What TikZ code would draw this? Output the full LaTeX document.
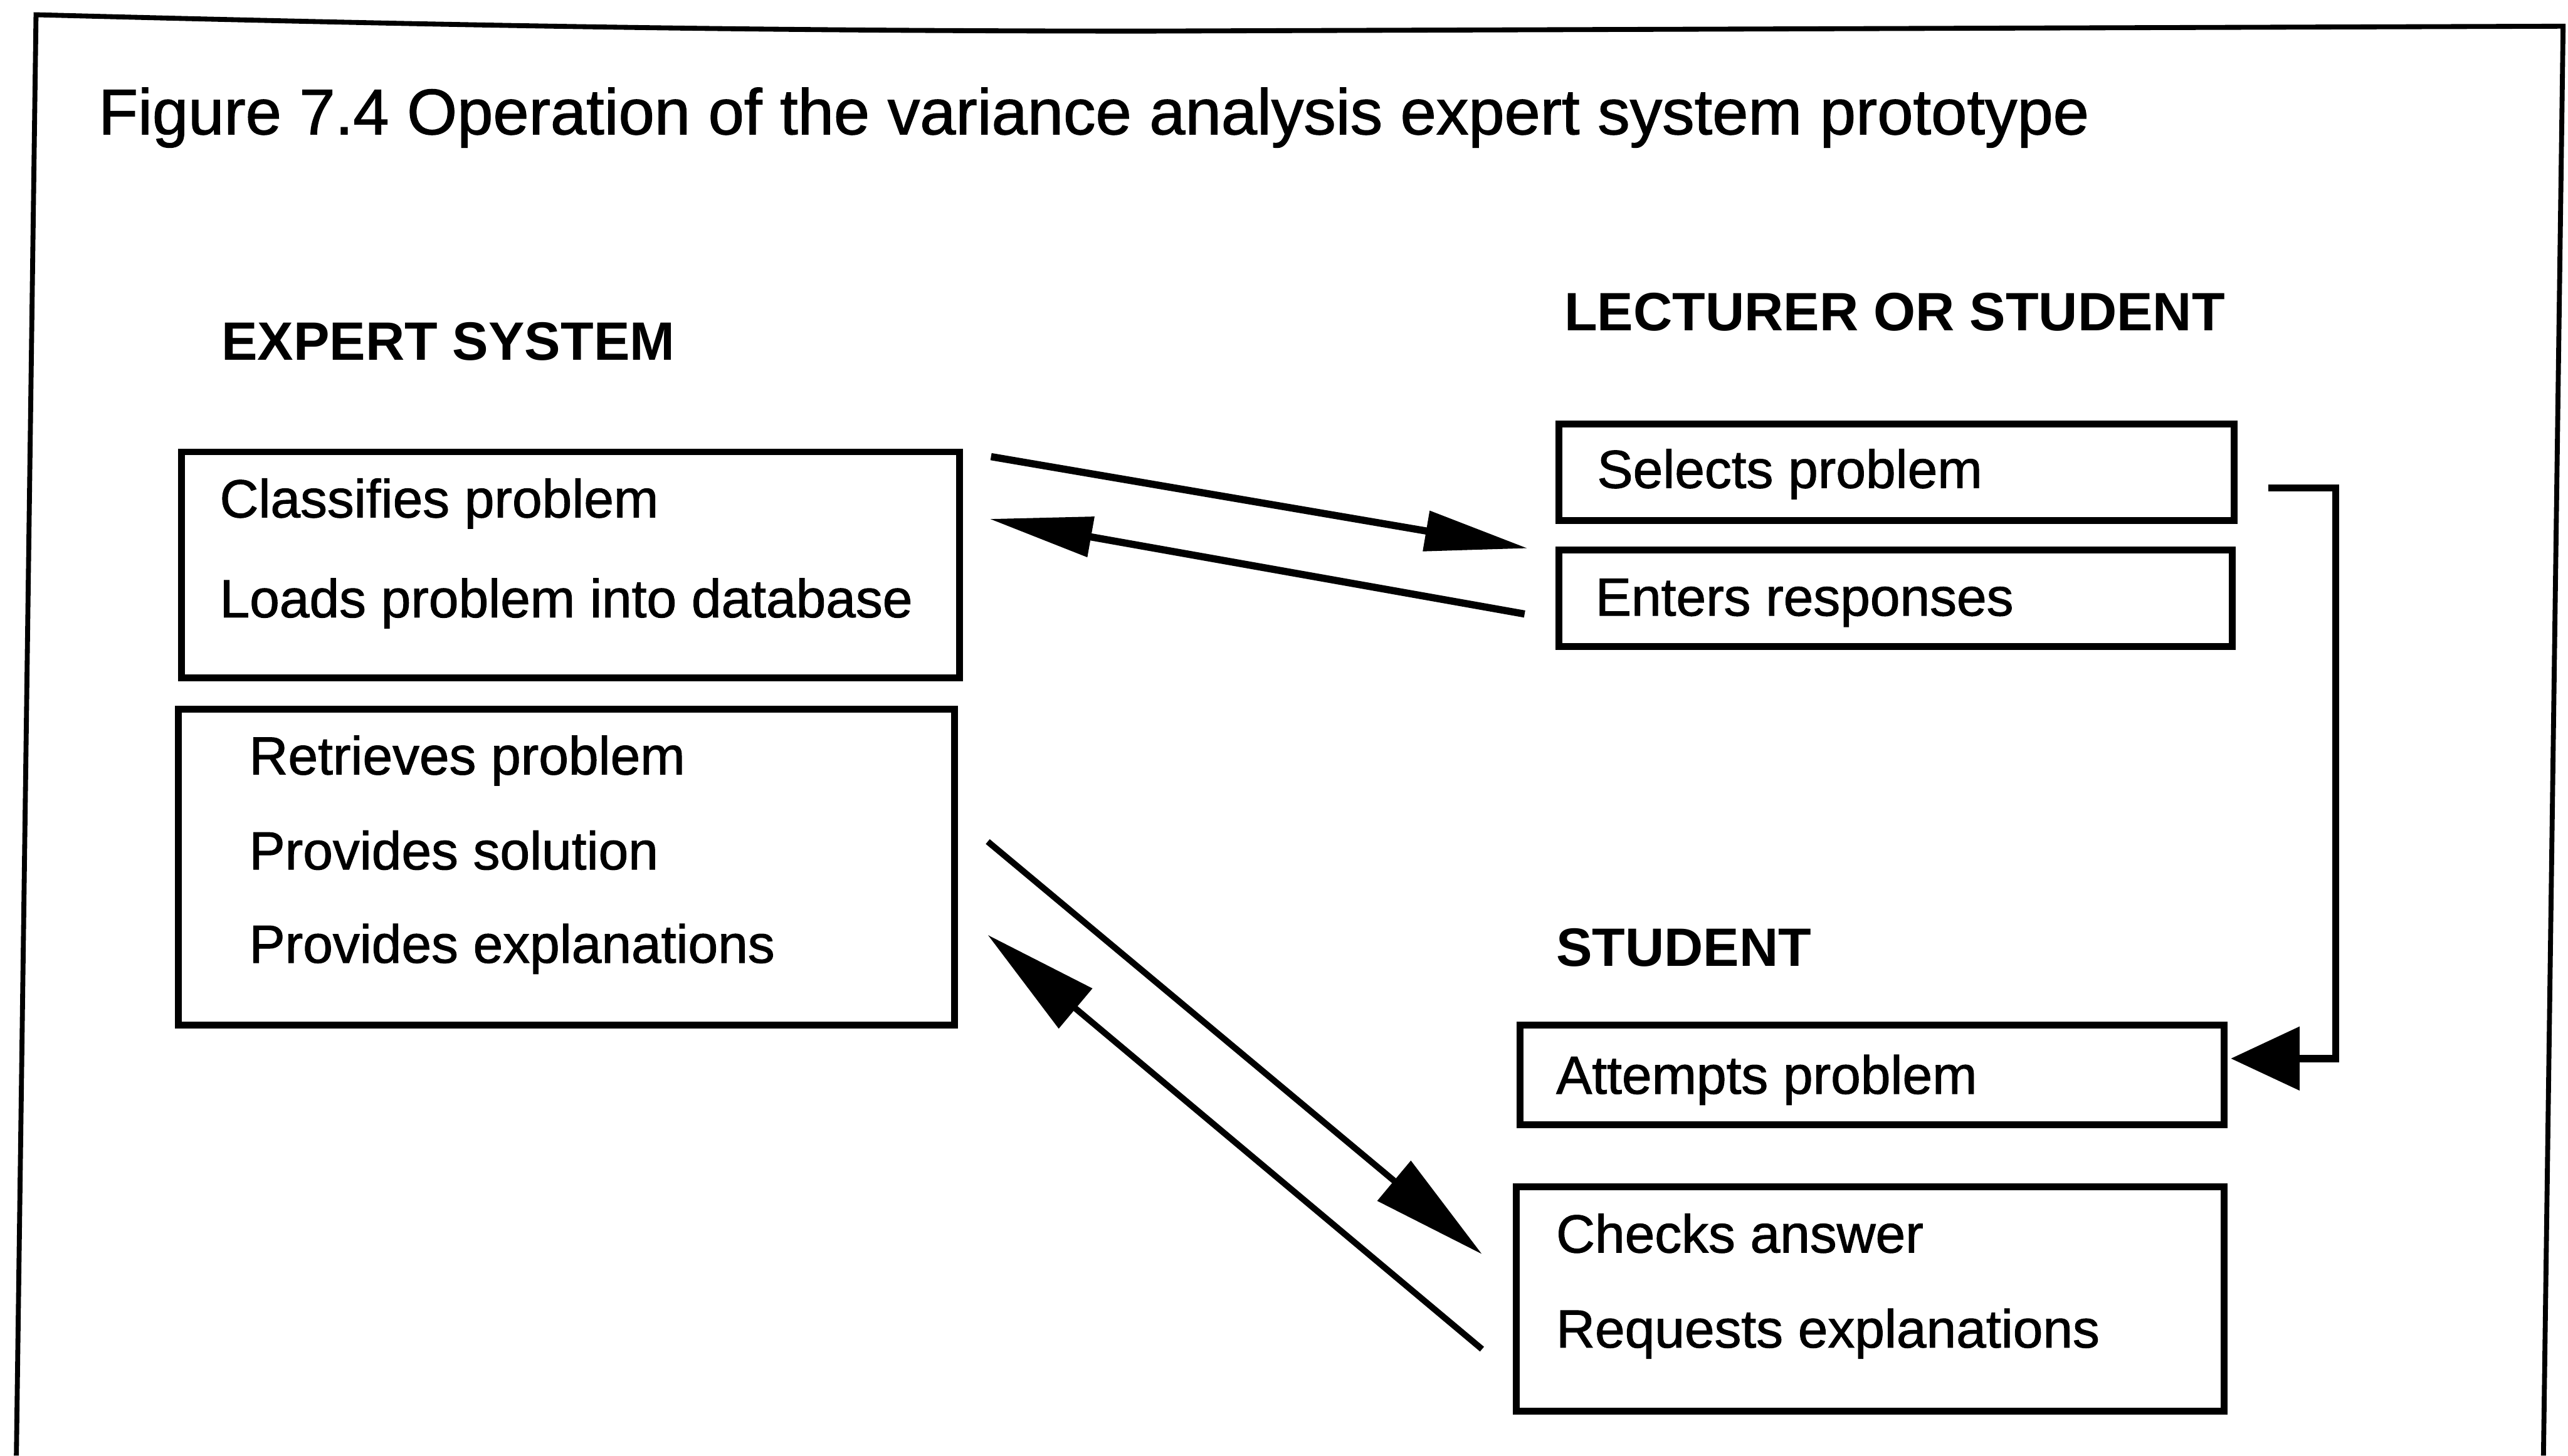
\documentclass[tikz,border=0pt]{standalone}
\usepackage{fontspec}
\setmainfont{Liberation Sans}
\newfontfamily\printfont[FakeBold=1.2]{Liberation Sans}
\usetikzlibrary{arrows.meta,calc}
\begin{document}
\begin{tikzpicture}[x=1pt,y=-1pt,
  box/.style={draw,line width=4.2pt,inner sep=0pt},
  txt/.style={anchor=base west,inner sep=0pt,font=\printfont\fontsize{32.8}{36}\selectfont},
  head/.style={anchor=base west,inner sep=0pt,font=\fontsize{33}{36}\selectfont\bfseries},
  frame/.style={line width=3pt,line join=miter},
  flowA/.style={line width=4.4pt,-{Triangle[length=63pt,width=24pt]}},
  flowB/.style={line width=3.8pt,-{Triangle[length=70pt,width=31pt]}},
  flowC/.style={line width=4.4pt,line join=miter,-{Triangle[length=42pt,width=38pt]}},
]
\useasboundingbox (0,0) rectangle (1568,889);

% outer frame, open at the bottom
\draw[frame] (10,889) -- (22,9) .. controls (250,15) and (450,19) .. (700,19)
  -- (1565,16) -- (1553,889);

% title
\node[anchor=base west,inner sep=0pt,font=\printfont\fontsize{39.4}{44}\selectfont] (title) at (60,82)
  {Figure 7.4 Operation of the variance analysis expert system prototype};

% column headings
\node[head] (hes) at (135,220) {EXPERT SYSTEM};
\node[head] (hls) at (955,202) {LECTURER OR STUDENT};
\node[head] (hst) at (950,590) {STUDENT};

% expert system boxes
\node[box,minimum width=475pt,minimum height=138pt] (b1) at (348.5,345) {};
\node[txt] (t11) at (134,316) {Classifies problem};
\node[txt] (t12) at (134,377) {Loads problem into database};

\node[box,minimum width=474pt,minimum height=193pt] (b2) at (346,529.5) {};
\node[txt] (t21) at (152,473) {Retrieves problem};
\node[txt] (t22) at (152,531) {Provides solution};
\node[txt] (t23) at (152,588) {Provides explanations};

% lecturer or student boxes
\node[box,minimum width=412pt,minimum height=59pt] (b3) at (1158,288.5) {};
\node[txt] (t3) at (975,298) {Selects problem};

\node[box,minimum width=411pt,minimum height=59pt] (b4) at (1157.5,365.5) {};
\node[txt] (t4) at (974,376) {Enters responses};

% student boxes
\node[box,minimum width=430pt,minimum height=61pt] (b5) at (1143,656.5) {};
\node[txt] (t5) at (950,668) {Attempts problem};

\node[box,minimum width=432pt,minimum height=137pt] (b6) at (1142,793.5) {};
\node[txt] (t61) at (950,765) {Checks answer};
\node[txt] (t62) at (950,823) {Requests explanations};

% connectors
\draw[flowA] ($(b1.north east)+(17,5)$) -- ($(b4.north west)+(-17,1)$);
\draw[flowA] ($(b4.west)+(-19,9.5)$) -- ($(b1.north east)+(16,43)$);
\draw[flowB] ($(b2.east)+(18,-15.5)$) -- ($(b6.west)+(-19,-27.5)$);
\draw[flowB] ($(b6.west)+(-19,30.5)$) -- ($(b2.east)+(18,41.5)$);

\coordinate (s5) at ($(b3.east)+(19,9.5)$);
\coordinate (e5) at ($(b5.east)+(2,-10)$);
\draw[flowC] (s5) -| ($(e5)+(64,0)$) -- (e5);
\end{tikzpicture}
\end{document}
